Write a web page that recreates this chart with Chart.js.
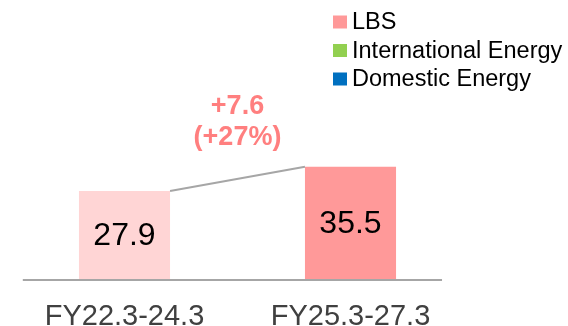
<!DOCTYPE html>
<html>
<head>
<meta charset="utf-8">
<script src="https://cdn.jsdelivr.net/npm/chart.js@4/dist/chart.umd.min.js"></script>
<style>
  html, body { margin: 0; padding: 0; background: #fff; }
  #wrap { width: 568px; height: 326px; position: relative; }
</style>
</head>
<body>
<div id="wrap"><canvas id="c" width="568" height="326"></canvas></div>
<script>
// Periods and LBS totals
const categories = ['FY22.3-24.3', 'FY25.3-27.3'];
const lbsValues = [27.9, 35.5];
const internationalValues = [null, null];
const domesticValues = [null, null];
const seriesNames = ['LBS', 'International Energy', 'Domestic Energy'];

const FONT = '"Liberation Sans", Arial, sans-serif';
const legendColors = ['#FF9999', '#92D050', '#0070C0'];
const barColors = ['#FFD5D5', '#FF9999'];

// Value labels inside each bar, the baseline, the connector and the change callout
const overlay = {
  id: 'overlay',
  afterDatasetsDraw(chart) {
    const ctx = chart.ctx;
    const xs = chart.scales.x, ys = chart.scales.y;
    const bars = chart.getDatasetMeta(0).data;
    const y0 = ys.getPixelForValue(0);

    ctx.save();
    // baseline
    ctx.strokeStyle = '#A6A6A6';
    ctx.lineWidth = 2;
    ctx.beginPath();
    ctx.moveTo(xs.getPixelForValue(-0.45), y0);
    ctx.lineTo(xs.getPixelForValue(1.405), y0);
    ctx.stroke();

    // connector between bar tops
    const b0 = bars[0].getProps(['x', 'y', 'width'], true);
    const b1 = bars[1].getProps(['x', 'y', 'width'], true);
    ctx.beginPath();
    ctx.moveTo(b0.x + b0.width / 2, b0.y);
    ctx.lineTo(b1.x - b1.width / 2, b1.y);
    ctx.stroke();

    // values in bars
    ctx.fillStyle = '#000';
    ctx.font = '32px ' + FONT;
    ctx.textAlign = 'center';
    ctx.textBaseline = 'middle';
    bars.forEach((b, i) => {
      const p = b.getProps(['x', 'y', 'base'], true);
      ctx.fillText(lbsValues[i].toFixed(1), p.x, (p.y + p.base) / 2 + 1);
    });

    // change callout
    const diff = lbsValues[1] - lbsValues[0];
    const pct = Math.round(diff / lbsValues[0] * 100);
    const cx = (b0.x + b0.width / 2 + b1.x - b1.width / 2) / 2;
    ctx.fillStyle = '#FF7F7F';
    ctx.font = 'bold 27px ' + FONT;
    ctx.fillText('+' + diff.toFixed(1), cx, 107);
    ctx.fillText('(+' + pct + '%)', cx, 138);
    ctx.restore();
  },
  afterDraw(chart) {
    // stacked legend, top right
    const ctx = chart.ctx;
    ctx.save();
    ctx.font = '23.5px ' + FONT;
    ctx.textAlign = 'left';
    ctx.textBaseline = 'middle';
    seriesNames.forEach((name, i) => {
      const cy = 22 + i * 28.5;
      ctx.fillStyle = legendColors[i];
      ctx.fillRect(333, cy - 6.5, 14, 13);
      ctx.fillStyle = '#000';
      ctx.fillText(name, 352, cy + 1);
    });
    ctx.restore();
  }
};

new Chart(document.getElementById('c'), {
  type: 'bar',
  data: {
    labels: categories,
    datasets: [
      { label: seriesNames[0], data: lbsValues, backgroundColor: barColors },
      { label: seriesNames[1], data: internationalValues, backgroundColor: legendColors[1] },
      { label: seriesNames[2], data: domesticValues, backgroundColor: legendColors[2] }
    ]
  },
  options: {
    responsive: false,
    animation: false,
    devicePixelRatio: 1,
    layout: { padding: { left: 11.5, right: 104.5, top: 25, bottom: 0 } },
    datasets: { bar: { barPercentage: 0.403, categoryPercentage: 1 } },
    plugins: { legend: { display: false }, tooltip: { enabled: false } },
    scales: {
      x: {
        stacked: true,
        grid: { display: false, drawTicks: false },
        border: { display: false },
        ticks: { color: '#404040', font: { family: FONT, size: 29 }, padding: 20, maxRotation: 0 },
        afterFit(scale) { scale.height = 46; }
      },
      y: {
        stacked: true,
        display: false,
        min: 0,
        max: 80
      }
    }
  },
  plugins: [overlay]
});
</script>
</body>
</html>
